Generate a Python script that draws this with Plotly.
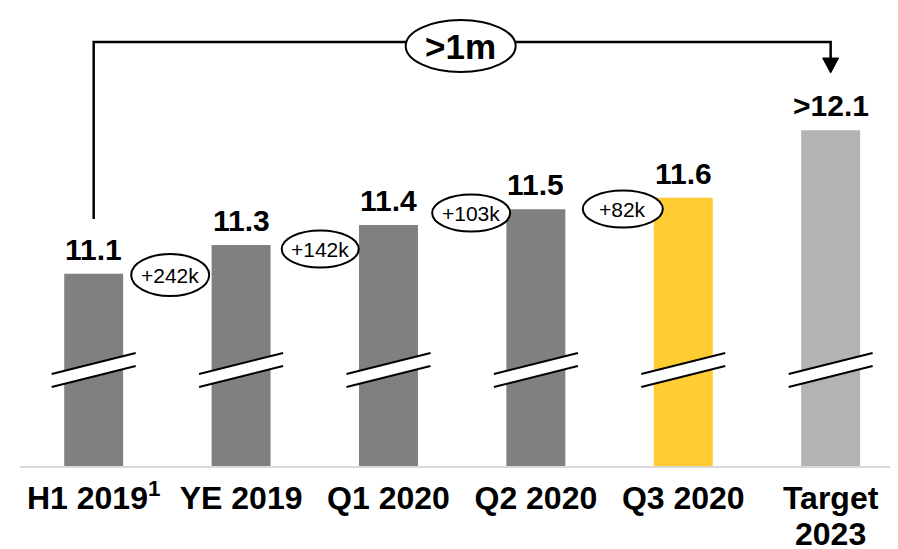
import plotly.graph_objects as go

# ---- data ----
categories = ["H1 2019<sup>1</sup>", "YE 2019", "Q1 2020", "Q2 2020", "Q3 2020", "Target"]
category_second_line = ["", "", "", "", "", "2023"]
values = [11.1, 11.3, 11.44, 11.55, 11.63, 12.1]
value_labels = ["11.1", "11.3", "11.4", "11.5", "11.6", ">12.1"]
increments = ["+242k", "+142k", "+103k", "+82k"]
total_label = ">1m"

# ---- styling ----
bar_colors = ["#808080", "#808080", "#808080", "#808080", "#FFCC33", "#B3B3B3"]
FONT = "Liberation Sans, Arial, sans-serif"
OFF = 8                      # page body margin of the html output
W, H = 898 - OFF, 549 - OFF
ML, MR, MT, MB = 20 - OFF, 0, 0, 83
Y0, Y1 = 9.76, 12.952
X0, X1 = -0.5, 5.457

plot_h = H - MT - MB
BASE_PAGE_Y = OFF + plot_h   # page row of the x axis line


def yv(py):
    """page pixel row -> y data value (for decorations only)"""
    return Y0 + (BASE_PAGE_Y - py) / plot_h * (Y1 - Y0)


px_per_x = (W - ML - MR) / (X1 - X0)

xs = list(range(len(categories)))

fig = go.Figure()
fig.add_trace(go.Bar(
    x=xs, y=values, width=0.40,
    marker=dict(color=bar_colors, line=dict(width=0)),
    hoverinfo="skip",
))

shapes = []
annotations = []

# value labels above bars
for x, v, lab in zip(xs, values, value_labels):
    annotations.append(dict(
        x=x, y=v, xref="x", yref="y", text=lab, showarrow=False,
        xanchor="center", yanchor="bottom", yshift=6,
        font=dict(family=FONT, size=30, color="black", weight=700),
    ))

# second line of category labels
for x, lab in zip(xs, category_second_line):
    if lab:
        annotations.append(dict(
            x=x, y=-(534 - BASE_PAGE_Y) / plot_h,
            xref="x", yref="paper", text=lab, showarrow=False,
            xanchor="center", yanchor="middle",
            font=dict(family=FONT, size=32, color="black", weight=700),
        ))

# axis break marks on every bar
dx = 42 / px_per_x
for x in xs:
    yt_l, yt_r = yv(374), yv(353)
    yb_l, yb_r = yv(387), yv(366)
    shapes.append(dict(
        type="path", xref="x", yref="y",
        path=f"M {x-dx},{yt_l} L {x+dx},{yt_r} L {x+dx},{yb_r} L {x-dx},{yb_l} Z",
        fillcolor="white", line=dict(width=0), layer="above",
    ))
    shapes.append(dict(type="line", xref="x", yref="y", x0=x-dx, y0=yt_l, x1=x+dx, y1=yt_r,
                       line=dict(color="black", width=2), layer="above"))
    shapes.append(dict(type="line", xref="x", yref="y", x0=x-dx, y0=yb_l, x1=x+dx, y1=yb_r,
                       line=dict(color="black", width=2), layer="above"))

# bracket with arrow from first bar to target
line_y = yv(42)
shapes.append(dict(
    type="path", xref="x", yref="y",
    path=f"M {xs[0]},{yv(219)} L {xs[0]},{line_y} L {xs[-1]},{line_y} L {xs[-1]},{yv(60)}",
    line=dict(color="black", width=2.5), layer="above",
))
ah = 8 / px_per_x
shapes.append(dict(
    type="path", xref="x", yref="y",
    path=f"M {xs[-1]-ah},{yv(58)} L {xs[-1]+ah},{yv(58)} L {xs[-1]},{yv(73)} Z",
    fillcolor="black", line=dict(color="black", width=1), layer="above",
))

# increment ellipses between bars
inc_pos = [(0.519, yv(275), 78, 42), (1.537, yv(249), 77, 37),
           (2.561, yv(213), 78, 37), (3.59, yv(209), 80, 37)]
for lab, (ex, ey, ew, eh) in zip(increments, inc_pos):
    shapes.append(dict(
        type="circle", xref="x", yref="y",
        xsizemode="pixel", ysizemode="pixel", xanchor=ex, yanchor=ey,
        x0=-ew/2, x1=ew/2, y0=-eh/2, y1=eh/2,
        fillcolor="white", line=dict(color="black", width=2), layer="above",
    ))
    annotations.append(dict(
        x=ex, y=ey, xref="x", yref="y", text=lab, showarrow=False,
        xanchor="center", yanchor="middle",
        font=dict(family=FONT, size=21, color="black"),
    ))

# total ellipse on bracket
tx = (xs[0] + xs[-1]) / 2 - 0.01
ty = yv(46)
shapes.append(dict(
    type="circle", xref="x", yref="y",
    xsizemode="pixel", ysizemode="pixel", xanchor=tx, yanchor=ty,
    x0=-55, x1=55, y0=-26, y1=26,
    fillcolor="white", line=dict(color="black", width=2), layer="above",
))
annotations.append(dict(
    x=tx, y=ty, xref="x", yref="y", text=total_label, showarrow=False,
    xanchor="center", yanchor="middle",
    font=dict(family=FONT, size=35, color="black", weight=700),
))

fig.update_layout(
    width=W, height=H,
    margin=dict(l=ML, r=MR, t=MT, b=MB, pad=0),
    paper_bgcolor="white", plot_bgcolor="white",
    showlegend=False,
    shapes=shapes, annotations=annotations,
    xaxis=dict(
        range=[X0, X1], tickvals=xs, ticktext=categories,
        showgrid=False, zeroline=False, ticks="",
        showline=True, linecolor="#D9D9D9", linewidth=2,
        tickfont=dict(family=FONT, size=32, color="black", weight=700),
        ticklabelstandoff=3,
        fixedrange=True,
    ),
    yaxis=dict(range=[Y0, Y1], visible=False, fixedrange=True),
)

fig.write_html("out.html", config={"displayModeBar": False})
